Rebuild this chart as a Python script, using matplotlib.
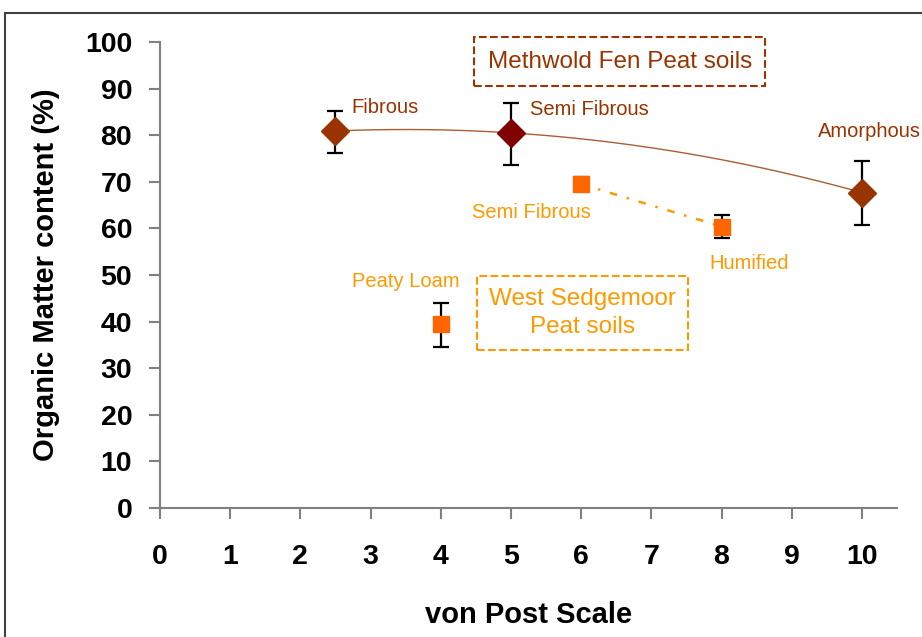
import matplotlib.pyplot as plt
import matplotlib.patches as patches
import numpy as np

plt.rcParams['font.family'] = ['Liberation Sans', 'DejaVu Sans']

# Methwold Fen peat soils
mf_x = [2.5, 5, 10]
mf_y = [80.9, 80.5, 67.7]
mf_lo = [76.2, 73.6, 60.7]
mf_hi = [85.2, 87.0, 74.4]
mf_labels = ['Fibrous', 'Semi Fibrous', 'Amorphous']
mf_colors = ['#993300', '#800000', '#993300']

# West Sedgemoor peat soils
ws_x = [4, 6, 8]
ws_y = [39.4, 69.5, 60.4]
ws_lo = [34.5, 68.0, 57.9]
ws_hi = [44.0, 71.0, 62.9]
ws_labels = ['Peaty Loam', 'Semi Fibrous', 'Humified']

brown = '#993300'
orange = '#FF9900'
sq_orange = '#FF6600'
axcol = '#808080'

fig = plt.figure(figsize=(9.22, 6.37), dpi=100)
ax = fig.add_axes([160/922, 1-508/637, 737/922, 466/637])

# outer chart border (Excel style)
fig.patches.append(patches.Rectangle((5/922, -0.1), 1.2, 1-13/637+0.1,
                                     transform=fig.transFigure, fill=False,
                                     edgecolor='#404040', lw=1.5))

# trendline through Methwold points
coef = np.polyfit(mf_x, mf_y, 2)
xx = np.linspace(mf_x[0], mf_x[-1], 200)
ax.plot(xx, np.polyval(coef, xx), color=brown, lw=1, alpha=0.8, zorder=2)

# dotted line between West Sedgemoor points
ax.plot(ws_x[1:], ws_y[1:], color=orange, lw=1.8, linestyle=(0, (3, 4, 1, 4)), zorder=2)

# error bars
mf_err = [np.array(mf_y) - np.array(mf_lo), np.array(mf_hi) - np.array(mf_y)]
ws_err = [np.array(ws_y) - np.array(ws_lo), np.array(ws_hi) - np.array(ws_y)]
ax.errorbar(mf_x, mf_y, yerr=mf_err, fmt='none', ecolor='black', elinewidth=1.6,
            capsize=5.5, capthick=1.6, zorder=3)
ax.errorbar(ws_x, ws_y, yerr=ws_err, fmt='none', ecolor='black', elinewidth=1.6,
            capsize=5.5, capthick=1.6, zorder=3)

for x, y, c in zip(mf_x, mf_y, mf_colors):
    ax.plot(x, y, marker='D', color=c, markersize=14, markeredgecolor=c, zorder=4)
ax.plot(ws_x, ws_y, 's', color=sq_orange, markersize=11, zorder=4)

# point labels
mf_pos = [(2.73, 86.0), (5.27, 85.6), (9.37, 80.7)]
for (tx, ty), lab in zip(mf_pos, mf_labels):
    ax.text(tx, ty, lab, color=brown, fontsize=14.5, va='center', ha='left', clip_on=False)
ws_pos = [(2.73, 48.5), (4.44, 63.5), (7.83, 52.4)]
for (tx, ty), lab in zip(ws_pos, ws_labels):
    ax.text(tx, ty, lab, color=orange, fontsize=14.5, va='center', ha='left')

# group boxes
ax.text(6.55, 95.8, 'Methwold Fen Peat soils', color=brown, fontsize=17.5, ha='center', va='center',
        bbox=dict(boxstyle='square,pad=0.55', fc='white', ec=brown, ls='--', lw=1.5))
ax.text(6.02, 41.8, 'West Sedgemoor\nPeat soils', color=orange, fontsize=17.5, ha='center',
        va='center', linespacing=1.35,
        bbox=dict(boxstyle='square,pad=0.5', fc='white', ec=orange, ls='--', lw=1.5))

ax.set_xlim(0, 10.5)
ax.set_ylim(0, 100)
ax.set_xticks(range(0, 11))
ax.set_yticks(range(0, 101, 10))
for s in ['top', 'right']:
    ax.spines[s].set_visible(False)
for s in ['left', 'bottom']:
    ax.spines[s].set_color(axcol)
    ax.spines[s].set_linewidth(1.5)
ax.tick_params(colors=axcol, width=1.5, length=8, labelcolor='black', labelsize=20.5)
ax.tick_params(axis='y', pad=12)
ax.tick_params(axis='x', pad=18)
for t in ax.get_xticklabels() + ax.get_yticklabels():
    t.set_fontweight('bold')
ax.set_xlabel('von Post Scale', fontsize=21, fontweight='bold', labelpad=22)
ax.set_ylabel('Organic Matter content (%)', fontsize=21, fontweight='bold', labelpad=18)

fig.savefig('out.png', dpi=100)
